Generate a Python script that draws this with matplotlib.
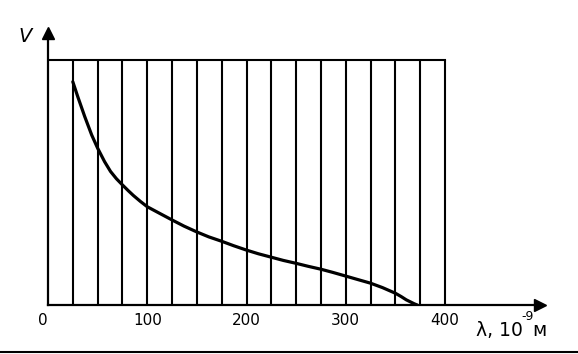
import matplotlib.pyplot as plt
import matplotlib.transforms as mt

# кривая (λ в 1e-9 м, V в условных единицах)
lam = [25, 30, 37, 44, 50, 57, 63, 69, 75, 81, 86, 93, 100, 112, 125, 137,
       150, 162, 175, 187, 200, 212, 225, 237, 250, 262, 275, 287, 300, 312,
       325, 337, 350, 356, 361, 366, 369, 372]
V = [9.11, 8.50, 7.69, 6.94, 6.40, 5.85, 5.45, 5.15, 4.90, 4.66, 4.47, 4.23,
     4.01, 3.75, 3.47, 3.22, 2.98, 2.78, 2.60, 2.42, 2.24, 2.09, 1.95, 1.82,
     1.70, 1.58, 1.46, 1.33, 1.18, 1.04, 0.89, 0.71, 0.48, 0.34, 0.21, 0.11,
     0.05, 0.0]

grid_x = list(range(25, 401, 25))
grid_top = 10
x_ticks = [0, 100, 200, 300, 400]
x_ticklabels = ["0", "100", "200", "300", "400"]

fig = plt.figure(figsize=(5.78, 3.54), dpi=100)
W, H = 578, 354
# оси: от (48,305) до (540,33) в пикселях
ax = fig.add_axes([48 / W, (H - 305) / H, 492 / W, 272 / H])
ax.set_xlim(0, 495.7)
ax.set_ylim(0, 11.1)

for s in ["top", "right"]:
    ax.spines[s].set_visible(False)
for s in ["left", "bottom"]:
    ax.spines[s].set_linewidth(1.6)
    ax.spines[s].set_color("black")

# стрелки осей
ax.plot(1, 0, ">", color="black", markersize=9, transform=ax.transAxes,
        clip_on=False)
ax.plot(0, 1, "^", color="black", markersize=9, transform=ax.transAxes,
        clip_on=False)

# сетка
for gx in grid_x:
    ax.plot([gx, gx], [0, grid_top], color="black", lw=1.5,
            solid_capstyle="butt")
ax.plot([0, grid_x[-1]], [grid_top, grid_top], color="black", lw=1.5)

ax.plot(lam, V, color="black", lw=2.3, solid_capstyle="round",
        solid_joinstyle="round")

ax.set_xticks(x_ticks)
ax.set_xticklabels(x_ticklabels, fontsize=11)
ax.set_yticks([])
ax.tick_params(axis="x", length=0, pad=6)
lbl0 = ax.get_xticklabels()[0]
lbl0.set_transform(lbl0.get_transform()
                   + mt.ScaledTranslation(-5 / 100, 0, fig.dpi_scale_trans))

fig.text(25 / W, 1 - 36 / H, "V", fontsize=14, style="italic",
         ha="center", va="center")
fig.text(476 / W, 1 - 330 / H, "λ, 10", fontsize=13.5, ha="left",
         va="center")
fig.text(521 / W, 1 - 316 / H, "-9", fontsize=9, ha="left", va="center")
fig.text(532 / W, 1 - 331 / H, "м", fontsize=13.5, ha="left", va="center")

# линия внизу рисунка
fig.add_artist(plt.Line2D([0, 1], [1 - 352 / H, 1 - 352 / H], color="black",
                          lw=1.5))

fig.savefig("out.png", dpi=100)
